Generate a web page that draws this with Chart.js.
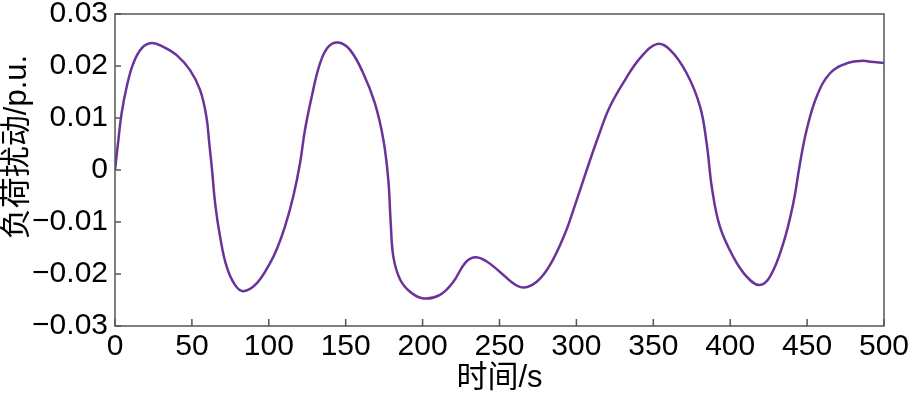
<!DOCTYPE html>
<html>
<head>
<meta charset="utf-8">
<script src="https://cdn.jsdelivr.net/npm/chart.js@4.4.0/dist/chart.umd.min.js"></script>
<style>
html,body{margin:0;padding:0;background:#fff;}
#wrap{width:919px;height:397px;position:relative;}
</style>
</head>
<body>
<div id="wrap"><canvas id="c" width="919" height="397"></canvas></div>
<script>
const timeS = [0, 2.2, 4.3, 7.6, 11.9, 17.3, 23.8, 31.4, 40.1, 48.8, 55.3, 59.4, 61.3, 63.1, 65.1, 68.3, 72.6, 78, 83.4, 92.1, 100.8,
  105.5, 110.5, 115.9, 120.3, 123.5, 127.9, 133.3, 138.7, 145.2, 152.8, 161.4, 169, 174.5, 177.7, 179.3, 181, 185.3,
  191.8, 200.5, 211.3, 220, 227.6, 234.1, 241.7, 250.3, 259, 265.9, 274.2, 282.8, 292.6,
  298, 306.7, 314.2, 321.8, 331.6, 341.4, 352.2, 360.9, 371.7, 380.4, 384.7, 388.3, 393.4, 402, 410.7, 418.9, 425.9,
  434.5, 441, 445.4, 449.7, 456.2, 464.9, 475.7, 486.5, 491, 500];
const loadDisturbance = [0, 0.0058, 0.0109, 0.016, 0.0205, 0.0234, 0.0244, 0.0237, 0.0221, 0.0192, 0.0154, 0.0103, 0.0051, 0, -0.0064, -0.0128, -0.0186, -0.0221, -0.0233, -0.0218, -0.0179,
  -0.0150, -0.0109, -0.0051, 0.0013, 0.0077, 0.0141, 0.0205, 0.0237, 0.0245, 0.0231, 0.0186, 0.0128, 0.0058, -0.0019, -0.0103, -0.0167, -0.0210,
  -0.0234, -0.0247, -0.0240, -0.0215, -0.0179, -0.0168, -0.0176, -0.0196, -0.0218, -0.0226, -0.0215, -0.0183, -0.0122,
  -0.0077, 0, 0.0064, 0.0122, 0.0173, 0.0215, 0.0242, 0.0231, 0.0186, 0.0122, 0.0051, -0.0038, -0.0110, -0.0167, -0.0205, -0.0221, -0.0205,
  -0.0141, -0.0064, 0.0013, 0.0077, 0.0141, 0.0186, 0.0205, 0.0210, 0.0208, 0.0206];
const xTicks = [0, 50, 100, 150, 200, 250, 300, 350, 400, 450, 500];
const yTicks = [-0.03, -0.02, -0.01, 0, 0.01, 0.02, 0.03];
const xTitle = '时间/s';
const yTitle = '负荷扰动/p.u.';

const points = timeS.map((t, i) => ({x: t, y: loadDisturbance[i]}));
const FONT = "'Liberation Sans', Arial, 'Noto Sans CJK SC', sans-serif";

const frame = {
  id: 'frame',
  afterDraw(chart) {
    const {ctx, chartArea: a, scales} = chart;
    ctx.save();
    ctx.strokeStyle = '#555';
    ctx.lineWidth = 1.5;
    ctx.strokeRect(a.left, a.top, a.right - a.left, a.bottom - a.top);
    ctx.beginPath();
    xTicks.forEach(v => {
      const px = scales.x.getPixelForValue(v);
      ctx.moveTo(px, a.bottom);
      ctx.lineTo(px, a.bottom - 7);
    });
    yTicks.forEach(v => {
      const py = scales.y.getPixelForValue(v);
      ctx.moveTo(a.left, py);
      ctx.lineTo(a.left + 6, py);
    });
    ctx.stroke();
    // y-axis title
    ctx.fillStyle = '#000';
    ctx.font = '31px ' + FONT;
    ctx.textAlign = 'center';
    ctx.textBaseline = 'middle';
    ctx.translate(17, (a.top + a.bottom) / 2 - 23);
    ctx.rotate(-Math.PI / 2);
    ctx.fillText(yTitle, 0, 0);
    ctx.restore();
  }
};

new Chart(document.getElementById('c'), {
  type: 'line',
  data: {
    datasets: [{
      data: points,
      borderColor: '#6a3399',
      borderWidth: 2.5,
      pointRadius: 0,
      fill: false,
      tension: 0.4
    }]
  },
  options: {
    responsive: false,
    animation: false,
    devicePixelRatio: 1,
    layout: {padding: {left: 0, right: 35, top: 14, bottom: 0}},
    plugins: {legend: {display: false}, tooltip: {enabled: false}},
    scales: {
      x: {
        type: 'linear', min: 0, max: 500,
        afterBuildTicks(s) { s.ticks = xTicks.map(v => ({value: v})); },
        afterFit(s) { s.height = 71; s.paddingLeft = 0; s.paddingRight = 0; },
        grid: {display: false, drawTicks: false},
        border: {display: false},
        ticks: {color: '#000', font: {family: FONT, size: 30}, padding: 3, maxRotation: 0, autoSkip: false,
          callback: v => String(v)},
        title: {display: true, text: xTitle, color: '#000', font: {family: FONT, size: 31}, padding: {top: 0, bottom: 0}}
      },
      y: {
        type: 'linear', min: -0.03, max: 0.03,
        afterBuildTicks(s) { s.ticks = yTicks.map(v => ({value: v})); },
        afterFit(s) { s.width = 115; s.paddingTop = 0; s.paddingBottom = 0; },
        grid: {display: false, drawTicks: false},
        border: {display: false},
        ticks: {color: '#000', font: {family: FONT, size: 30}, padding: 7, autoSkip: false,
          callback: v => { const r = Math.round(v * 100) / 100; return r < 0 ? '\u2212' + String(-r) : String(r); }},
        title: {display: false}
      }
    }
  },
  plugins: [frame]
});
</script>
</body>
</html>
